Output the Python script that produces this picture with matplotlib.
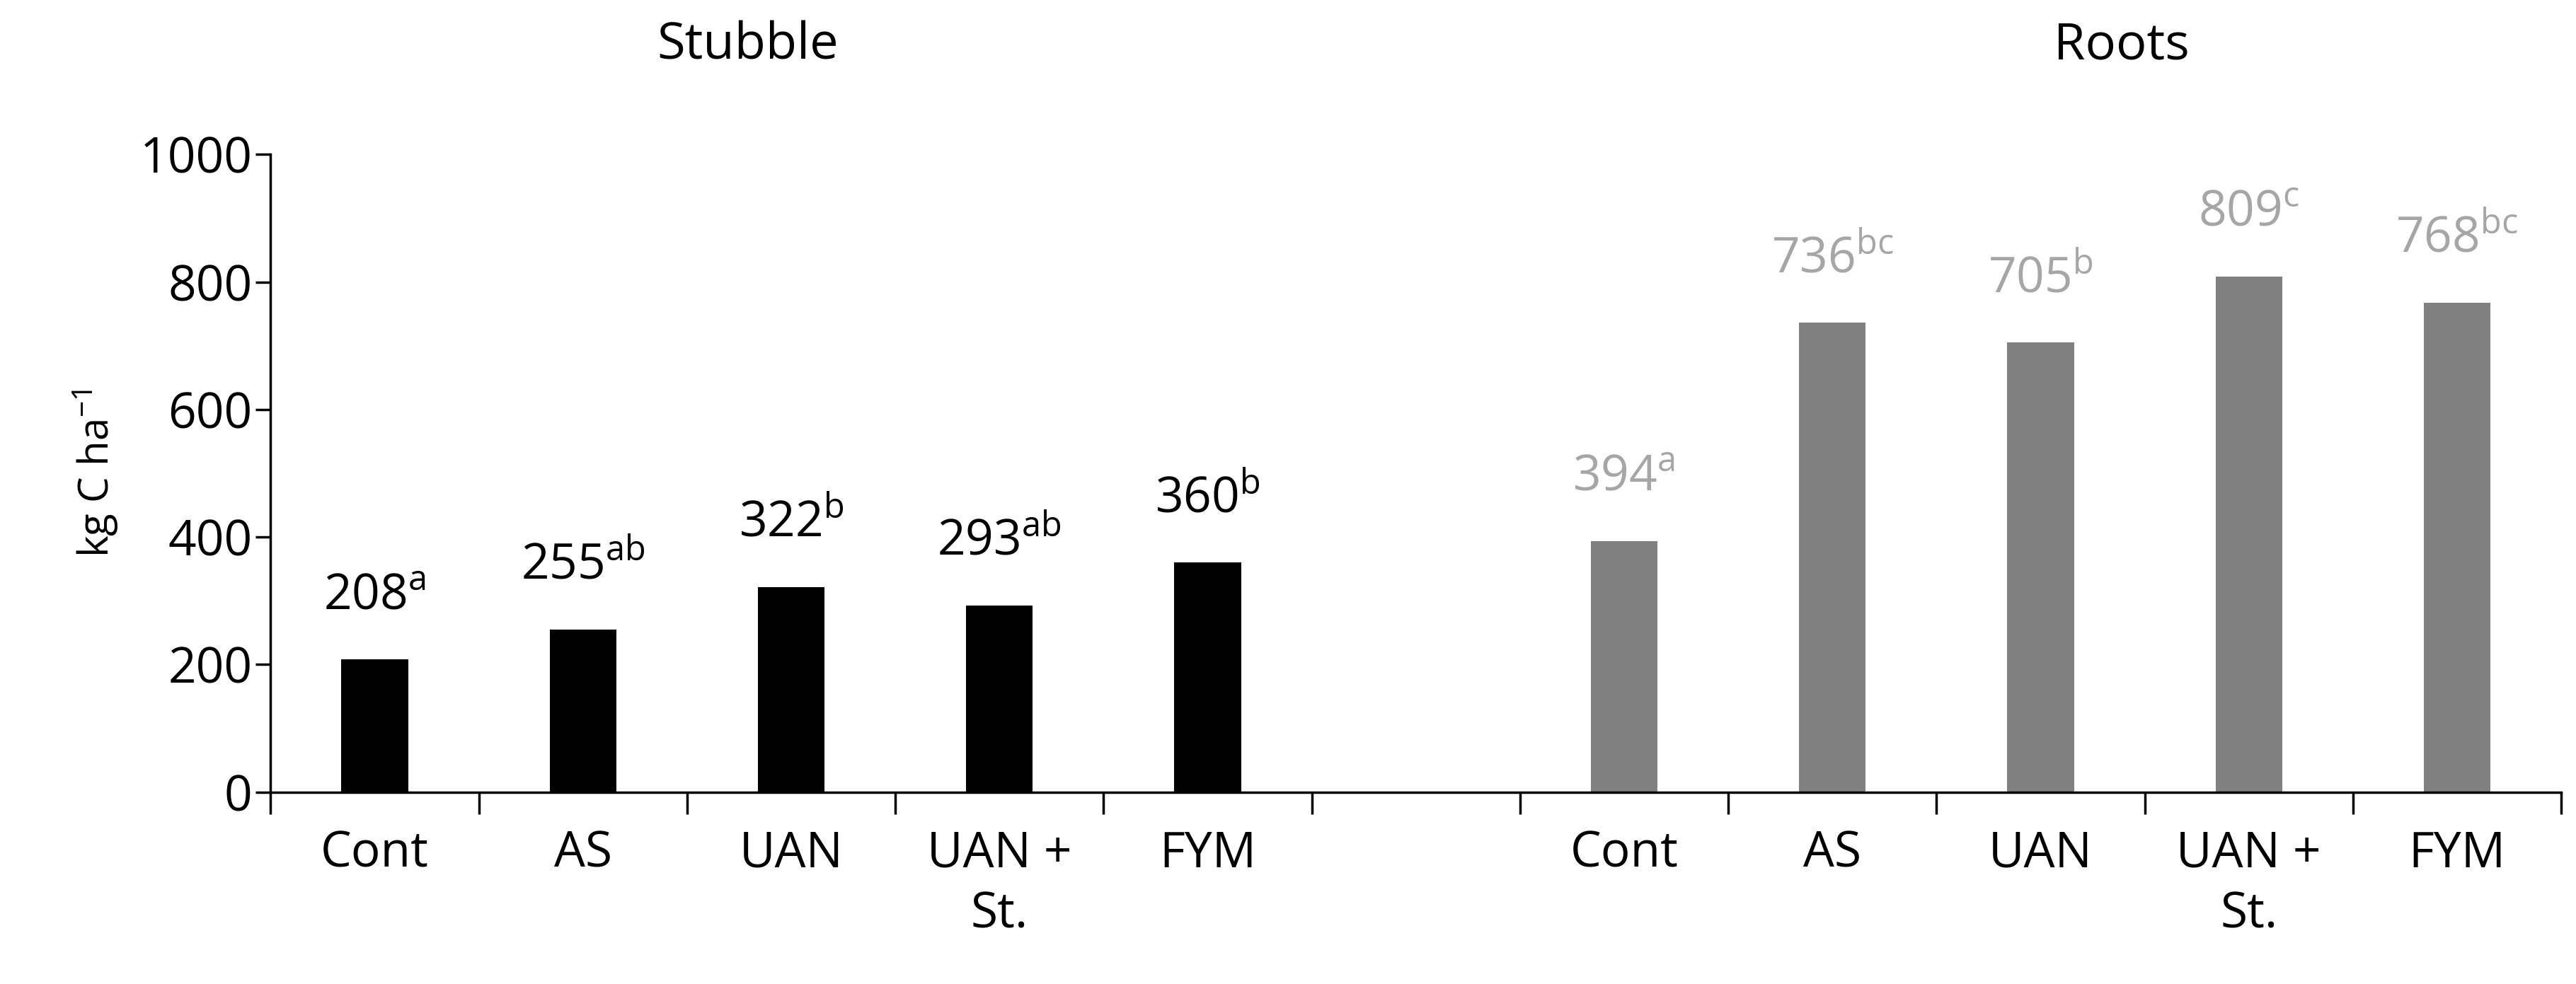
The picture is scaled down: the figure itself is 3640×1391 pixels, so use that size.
import numpy as np
import matplotlib.pyplot as plt

plt.rcParams['font.family'] = ['Open Sans', 'DejaVu Sans']
plt.rcParams['mathtext.fontset'] = 'custom'
plt.rcParams['mathtext.rm'] = 'Open Sans'

categories = ['Cont', 'AS', 'UAN', 'UAN +\nSt.', 'FYM']
stubble = [208, 255, 322, 293, 360]
stubble_letters = ['a', 'ab', 'b', 'ab', 'b']
roots = [394, 736, 705, 809, 768]
roots_letters = ['a', 'bc', 'b', 'c', 'bc']

fig = plt.figure(figsize=(36.41, 13.91), dpi=100)
ax = fig.add_axes([0.105, 0.195, 0.889, 0.648])

x1 = np.arange(5)
x2 = np.arange(6, 11)
w = 0.32
ax.bar(x1, stubble, width=w, color='black')
ax.bar(x2, roots, width=w, color='#808080')
for xi, v, l in zip(x1, stubble, stubble_letters):
    ax.text(xi, v + 60, f'{v}$^{{\\mathrm{{{l}}}}}$', ha='center', va='bottom', fontsize=50, color='black')
for xi, v, l in zip(x2, roots, roots_letters):
    ax.text(xi, v + 60, f'{v}$^{{\\mathrm{{{l}}}}}$', ha='center', va='bottom', fontsize=50, color='#a6a6a6')

ax.set_xlim(-0.5, 10.5)
ax.set_ylim(0, 1000)
ax.set_yticks(range(0, 1001, 200))
ax.set_xticks(list(x1) + list(x2))
ax.set_xticklabels(categories + categories, va='top', linespacing=1.3)
ax.set_xticks(np.arange(-0.5, 11, 1), minor=True)
ax.tick_params(axis='x', which='major', length=0, labelsize=50, pad=38)
ax.tick_params(axis='x', which='minor', length=22, width=2.5, direction='out')
ax.tick_params(axis='y', labelsize=50, length=15, width=2.5)
for s in ['top', 'right']:
    ax.spines[s].set_visible(False)
for s in ['left', 'bottom']:
    ax.spines[s].set_linewidth(2.5)
ax.set_ylabel('kg C ha$^{\\mathrm{-1}}$', fontsize=42, labelpad=20)

ax.text(1.79, 1170, 'Stubble', ha='center', va='center', fontsize=52, clip_on=False)
ax.text(8.39, 1170, 'Roots', ha='center', va='center', fontsize=52, clip_on=False)

fig.savefig('out.png', dpi=100)
